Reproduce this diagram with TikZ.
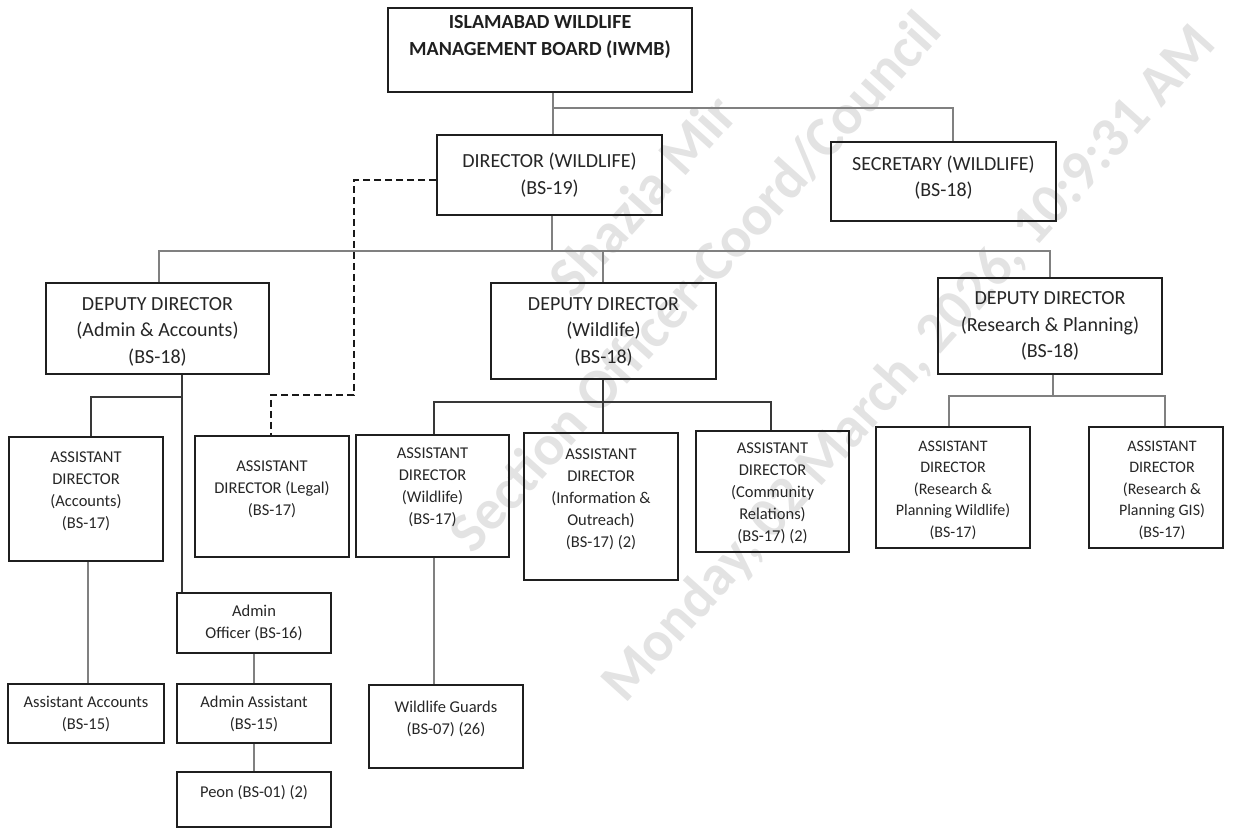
\documentclass[tikz,border=0pt]{standalone}
\usepackage{fontspec}
\setmainfont{Carlito}
\newcommand\orgbox[5]{\node[box, minimum width={#4-#2}, minimum height={#5-#3}] (#1) at ({(#2+#4)/2},{(#3+#5)/2}) {};}
\begin{document}
\begin{tikzpicture}[x=1pt,y=-1pt,
  box/.style={draw=black!88, line width=1.9pt, inner sep=0pt},
  conn/.style={draw=black!50, line width=1.1pt},
  connd/.style={draw=black!78, line width=1.1pt},
  legalline/.style={draw=black!90, line width=2.8pt, dash pattern=on 7pt off 4pt},
  tb/.style={align=center, inner sep=0pt, text=black!88, font=\fontsize{20}{27}\selectfont\bfseries},
  tl/.style={align=center, inner sep=0pt, text=black!85, font=\fontsize{20}{26.5}\selectfont},
  tm/.style={align=center, inner sep=0pt, text=black!85, font=\fontsize{16.5}{22}\selectfont},
  ts/.style={align=center, inner sep=0pt, text=black!85, font=\fontsize{16}{21.5}\selectfont},
  wm/.style={inner sep=0pt, text=black!11, rotate=48, font=\fontsize{57}{60}\selectfont\bfseries}
]
\useasboundingbox (0,0) rectangle (1233,829);

% watermark
\node[wm] (wm1) at (642,195) {Shazia Mir};
\node[wm] (wm2) at (695,282) {Section Officer-Coord/Council};
\node[wm] (wm3) at (910,365) {Monday, 02 March, 2026, 10:9:31 AM};

% boxes
\orgbox{top}{388}{8}{692}{92}
\orgbox{dir}{437}{135}{662}{215}
\orgbox{sec}{831}{142}{1056}{221}
\orgbox{dda}{46}{283}{269}{374}
\orgbox{ddw}{491}{283}{716}{379}
\orgbox{ddr}{938}{278}{1162}{374}
\orgbox{ada}{9}{437}{163}{561}
\orgbox{adl}{195}{436}{349}{557}
\orgbox{adw}{356}{435}{509}{557}
\orgbox{adi}{524}{433}{678}{580}
\orgbox{adc}{696}{431}{849}{552}
\orgbox{adrw}{876}{427}{1030}{548}
\orgbox{adrg}{1089}{427}{1223}{548}
\orgbox{ao}{177}{593}{331}{653}
\orgbox{aa}{8}{684}{164}{743}
\orgbox{aas}{177}{684}{331}{743}
\orgbox{peon}{177}{772}{331}{827}
\orgbox{wg}{369}{685}{523}{768}

% junction coordinates
\coordinate (jTop) at (553,108);
\coordinate (jSec) at (953,108);
\coordinate (jDir) at (552,251);
\coordinate (b2L) at (159,251);
\coordinate (b2R) at (1050,251);
\coordinate (jA) at (182,397);
\coordinate (jA2) at (91,397);
\coordinate (xAA) at (88,600);
\coordinate (jW) at (603,402);
\coordinate (jWL) at (434,402);
\coordinate (jWR) at (771,402);
\coordinate (jR) at (1053,396);
\coordinate (jRL) at (949,396);
\coordinate (jRR) at (1165,396);
\coordinate (d1) at (354,180);
\coordinate (d2) at (354,395);
\coordinate (d3) at (271,395);

% connectors
\draw[conn] (top.south -| jTop) -- (dir.north -| jTop);
\draw[conn] (jTop) -- (jSec) -- (sec.north -| jSec);
\draw[conn] (dir.south -| jDir) -- (jDir);
\draw[conn] (dda.north -| b2L) -- (b2L) -- (b2R) -- (ddr.north -| b2R);
\draw[conn] (ddw.north -| jW) -- (jW |- b2L);
\draw[connd] (dda.south -| jA) -- (ao.north -| jA);
\draw[connd] (jA) -- (jA2) -- (ada.north -| jA2);
\draw[conn] (ada.south -| xAA) -- (aa.north -| xAA);
\draw[conn] (ao.south -| aas.north) -- (aas.north);
\draw[conn] (aas.south) -- (peon.north);
\draw[connd] (ddw.south -| jW) -- (adi.north -| jW);
\draw[connd] (adw.north -| jWL) -- (jWL) -- (jWR) -- (adc.north -| jWR);
\draw[conn] (adw.south -| jWL) -- (wg.north -| jWL);
\draw[conn] (ddr.south -| jR) -- (jR);
\draw[conn] (adrw.north -| jRL) -- (jRL) -- (jRR) -- (adrg.north -| jRR);
\draw[legalline] (dir.west |- d1) -- (d1) -- (d2) -- (d3) -- (adl.north -| d3);

% texts
\node[tb] (top-t) at (540,36.5) {ISLAMABAD WILDLIFE\\MANAGEMENT BOARD (IWMB)};
\node[tl] (dir-t) at (549.5,175) {DIRECTOR (WILDLIFE)\\(BS-19)};
\node[tl] (sec-t) at (943.5,177.5) {SECRETARY (WILDLIFE)\\(BS-18)};
\node[tl] (dda-t) at (157.5,331.5) {DEPUTY DIRECTOR\\(Admin \& Accounts)\\(BS-18)};
\node[tl] (ddw-t) at (603.5,331.5) {DEPUTY DIRECTOR\\(Wildlife)\\(BS-18)};
\node[tl] (ddr-t) at (1050,326) {DEPUTY DIRECTOR\\(Research \& Planning)\\(BS-18)};
\node[tm] (ada-t) at (86,491.5) {ASSISTANT\\DIRECTOR\\(Accounts)\\(BS-17)};
\node[tm] (adl-t) at (272,489.5) {ASSISTANT\\DIRECTOR (Legal)\\(BS-17)};
\node[tm] (adw-t) at (432.5,487) {ASSISTANT\\DIRECTOR\\(Wildlife)\\(BS-17)};
\node[tm] (adi-t) at (601,499) {ASSISTANT\\DIRECTOR\\(Information \&\\Outreach)\\(BS-17) (2)};
\node[tm] (adc-t) at (772.5,493) {ASSISTANT\\DIRECTOR\\(Community\\Relations)\\(BS-17) (2)};
\node[ts] (adrw-t) at (953,490) {ASSISTANT\\DIRECTOR\\(Research \&\\Planning Wildlife)\\(BS-17)};
\node[ts] (adrg-t) at (1162,490) {ASSISTANT\\DIRECTOR\\(Research \&\\Planning GIS)\\(BS-17)};
\node[tm] (ao-t) at (254,622.5) {Admin\\Officer (BS-16)};
\node[tm] (aa-t) at (86,714) {Assistant Accounts\\(BS-15)};
\node[tm] (aas-t) at (254,714) {Admin Assistant\\(BS-15)};
\node[tm] (peon-t) at (254,793) {Peon (BS-01) (2)};
\node[tm] (wg-t) at (446,718.5) {Wildlife Guards\\(BS-07) (26)};
\end{tikzpicture}
\end{document}
